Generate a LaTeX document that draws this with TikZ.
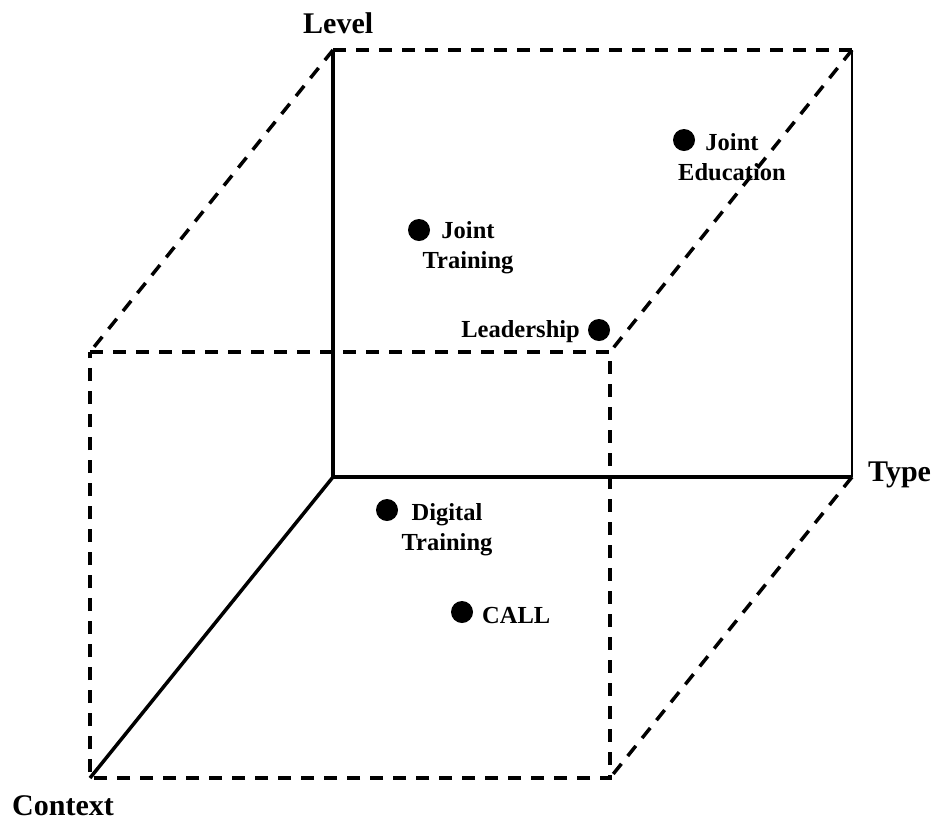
\documentclass[tikz,border=0pt]{standalone}
\usepackage{fontspec}
\setmainfont{Liberation Serif}
\usetikzlibrary{positioning}

\begin{document}
\begin{tikzpicture}[x=1pt,y=-1pt,
		axis/.style={line width=3.5pt,line join=miter},
		edge/.style={line width=3.5pt,dash pattern=on 13pt off 10pt},
		dot/.style={circle,fill=black,inner sep=0pt,minimum size=22pt},
		lbl/.style={font=\fontsize{24.5}{29.5}\selectfont\bfseries,inner sep=0pt,align=center},
		axlbl/.style={font=\fontsize{30}{36}\selectfont\bfseries,inner sep=0pt}]
			\useasboundingbox (0,0) rectangle (939,823);
			% corners of the cube
			\coordinate (O) at (333,477);
			\coordinate (L) at (333,50);
			\coordinate (T) at (852,477);
			\coordinate (C) at (90,778);
			\coordinate (B) at (852,50);
			\coordinate (FL) at (90,352);
			\coordinate (FR) at (610,352);
			\coordinate (FB) at (610,778);
			\draw[edge] (L) -- (B);
			\draw[edge] (L) -- (FL);
			\draw[edge] (B) -- (FR);
			\draw[edge] (T) -- (FB);
			\draw[edge] (FL) -- (FR) -- (FB) -- (C) -- cycle;
			\draw[line width=1.5pt] (B) -- (T);
			\draw[axis] (L) -- (O) -- (T);
			\draw[axis] (O) -- (C);
			\node[axlbl,anchor=base west] (level) at (303,33) {Level};
			\node[axlbl,anchor=base west] (type) at (868,481) {Type};
			\node[axlbl,anchor=base west] (context) at (12,815) {Context};
			% points
			\node[dot] (je) at (684,140) {};
			\node[lbl,anchor=base] (jetext) at (732,180) {Joint\\Education};
			\node[dot] (jt) at (419,230) {};
			\node[lbl,anchor=base] (jttext) at (468,268) {Joint\\Training};
			\node[dot] (ld) at (599,330) {};
			\node[lbl,anchor=base east] (ldtext) at (580,337) {Leadership};
			\node[dot] (dt) at (387,510) {};
			\node[lbl,anchor=base] (dttext) at (447,550) {Digital\\Training};
			\node[dot] (call) at (462,612) {};
			\node[lbl,anchor=base west] (calltext) at (482,623) {CALL};
		\end{tikzpicture}
\end{document}
